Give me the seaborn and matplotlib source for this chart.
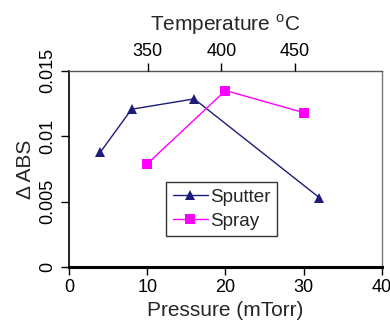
import matplotlib
matplotlib.use("Agg")
import matplotlib.pyplot as plt
import seaborn as sns
import pandas as pd

sputter_p = [4, 8, 16, 32]
sputter_abs = [0.00878, 0.01207, 0.01286, 0.00531]
spray_p = [10, 20, 30]
spray_abs = [0.00789, 0.0135, 0.01181]
temp_ticks = [350, 400, 450]

df = pd.DataFrame({
    "Pressure": sputter_p + spray_p,
    "ABS": sputter_abs + spray_abs,
    "Method": ["Sputter"] * len(sputter_p) + ["Spray"] * len(spray_p),
})

sns.set_style("white")
plt.rcParams["font.family"] = ["Liberation Sans", "DejaVu Sans"]
plt.rcParams["mathtext.fontset"] = "custom"
plt.rcParams["mathtext.rm"] = "Liberation Sans"

fig = plt.figure(figsize=(3.9, 3.23), dpi=100)
ax = fig.add_axes([0.177, 0.1734, 0.802, 0.607])

sns.lineplot(data=df, x="Pressure", y="ABS", hue="Method", style="Method",
             palette={"Sputter": "#1c1c7a", "Spray": "#ff00ff"},
             markers={"Sputter": "^", "Spray": "s"}, dashes=False,
             markersize=7.5, linewidth=1.0, markeredgewidth=0, ax=ax)

ax.set_xlim(0, 40)
ax.set_ylim(0, 0.015)
ax.set_xticks([0, 10, 20, 30, 40])
ax.set_yticks([0, 0.005, 0.01, 0.015])
ax.set_yticklabels(["0", "0.005", "0.01", "0.015"], rotation=90, va="center")
ax.tick_params(axis="both", direction="out", length=6, width=1, labelsize=13,
               left=True, bottom=True, colors="black", pad=3)
ax.set_xlabel("Pressure (mTorr)", fontsize=15, labelpad=3)
ax.set_ylabel("Δ ABS", fontsize=15, labelpad=3)

for s in ["left", "bottom"]:
    ax.spines[s].set_color("black")
    ax.spines[s].set_linewidth(1.2)
ax.spines["bottom"].set_linewidth(2.2)
ax.spines["top"].set_color("#555555")
ax.spines["top"].set_linewidth(1.0)
ax.spines["right"].set_color("#777777")
ax.spines["right"].set_linewidth(1.0)

# top temperature axis
t0, t1 = 296.5, 509.0
ax2 = ax.twiny()
ax2.set_xlim(t0, t1)
ax2.set_xticks(temp_ticks)
ax2.tick_params(axis="x", direction="out", length=6, width=1, labelsize=13,
                top=True, colors="black", pad=2)
ax2.set_xlabel("Temperature $^{\\mathrm{o}}$C", fontsize=15, labelpad=9)
for s in ax2.spines.values():
    s.set_visible(False)

leg = ax.legend(loc="upper left", bbox_to_anchor=(0.31, 0.434), fontsize=13.6,
                frameon=True, fancybox=False, edgecolor="black",
                handlelength=1.85, handletextpad=0.15, borderpad=0.35,
                labelspacing=0.35, borderaxespad=0)
leg.get_frame().set_linewidth(1.0)
leg.set_title(None)

fig.savefig("out.png", dpi=100)
